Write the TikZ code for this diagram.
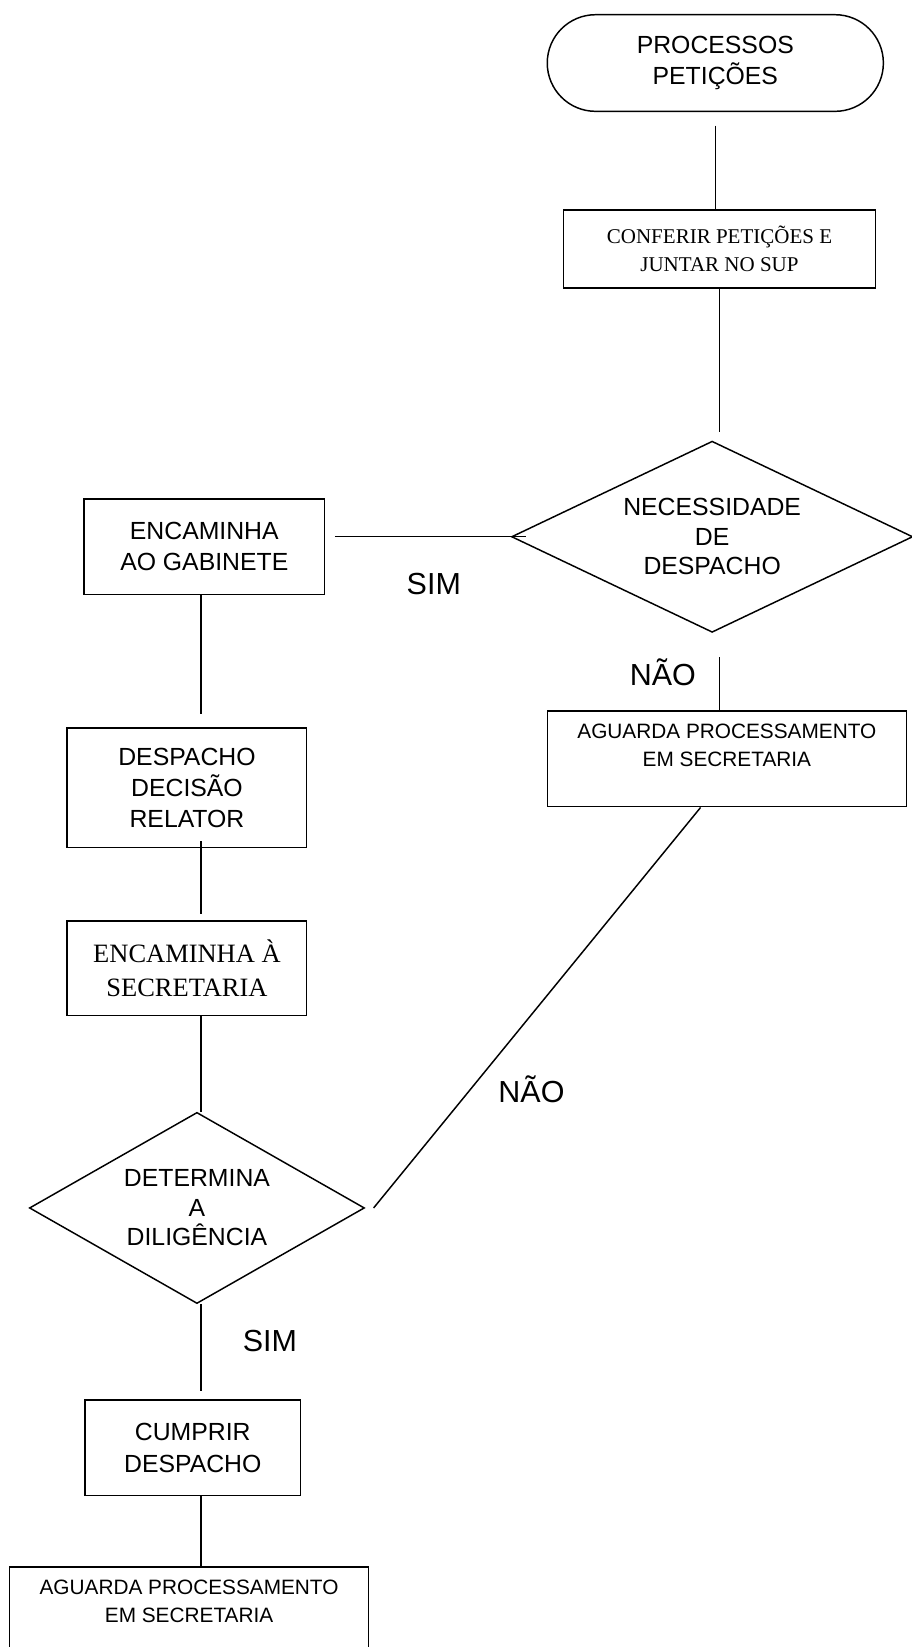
\documentclass[tikz,border=0pt]{standalone}
\usepackage{fontspec}
\setmainfont{Liberation Sans}
\newfontfamily\serifrm{Liberation Serif}
\usepackage{tikz}
\usetikzlibrary{shapes.geometric, positioning}

\begin{document}
\begin{tikzpicture}[
    x=0.5pt, y=-0.5pt,
    line width=0.7pt,
    box/.style      = {draw, align=center, inner sep=0pt,
                       font=\fontsize{11.8}{14.8}\selectfont},
    terminal/.style = {box, rounded corners=23pt, minimum width=160pt,
                       minimum height=46pt},
    decision/.style = {draw, diamond, align=center, inner sep=0pt,
                       font=\fontsize{11.8}{14}\selectfont},
    wait/.style     = {box, minimum width=171pt, minimum height=45.5pt,
                       font=\fontsize{9.9}{13}\selectfont},
    answer/.style   = {font=\fontsize{14.5}{17}\selectfont}
  ]
  \useasboundingbox (0,0) rectangle (868,1568);

  % Start
  \node[terminal] (start) at (681,60) {PROCESSOS\\PETIÇÕES};

  % Check petitions
  \node[box, minimum width=148.5pt, minimum height=37pt,
        font=\serifrm\fontsize{10}{13.5}\selectfont]
    (conf) at (685,237) {CONFERIR PETIÇÕES E\\JUNTAR NO SUP};

  % First decision
  \node[decision, aspect=2.1, minimum width=191pt, minimum height=91pt]
    (need) at (678,511) {NECESSIDADE\\DE\\DESPACHO};

  % Right branch
  \node[wait] (wait1) at (692,722.5)
    {AGUARDA PROCESSAMENTO\\EM SECRETARIA\\~};

  % Left column
  \node[box, minimum width=114.5pt, minimum height=45.5pt]
    (cab) at (194.5,520.5) {ENCAMINHA\\AO GABINETE};
  \node[box, minimum width=114pt, minimum height=57pt]
    (rel) at (178,750) {DESPACHO\\DECISÃO\\RELATOR};
  \node[box, minimum width=114pt, minimum height=45pt,
        font=\serifrm\fontsize{12.6}{16}\selectfont]
    (sec) at (178,922) {ENCAMINHA À\\SECRETARIA};

  % Second decision
  \node[decision, aspect=1.75, minimum width=159.5pt, minimum height=91pt]
    (dil) at (187.5,1150) {DETERMINA\\A\\DILIGÊNCIA};

  \node[box, minimum width=102.5pt, minimum height=45.5pt]
    (cump) at (183.5,1378.5) {CUMPRIR\\DESPACHO};
  \node[wait] (wait2) at (180,1537.5)
    {AGUARDA PROCESSAMENTO\\EM SECRETARIA\\~};

  % Labels
  \node[answer] (sim1) at (413,556) {SIM};
  \node[answer] (nao1) at (631,640) {NÃO};
  \node[answer] (nao2) at (506,1037) {NÃO};
  \node[answer] (sim2) at (257,1277) {SIM};

  % Lines
  \draw[shorten <=6.5pt] (start.south) -- (start.south |- conf.north);
  \draw[shorten >=4pt] (conf.south) -- (conf.south |- need.north);
  \draw[shorten <=4.5pt, shorten >=-7pt] (cab.east |- need.west) -- (need.west);
  \draw[shorten <=11.5pt, shorten >=-0.5pt] (conf.south |- need.south)
    -- (conf.south |- wait1.north);
  \draw ([xshift=-12.5pt]wait1.south) -- ([xshift=4pt]dil.east);
  \draw[shorten >=6.5pt] ([xshift=-1.5pt]cab.south)
    -- ([xshift=-1.5pt]cab.south |- rel.north);
  \draw[shorten <=-3.5pt, shorten >=3pt] ([xshift=-1.5pt]cab.south |- rel.south)
    -- ([xshift=-1.5pt]cab.south |- sec.north);
  \draw ([xshift=-1.5pt]cab.south |- sec.south)
    -- ([xshift=-1.5pt]cab.south |- dil.north);
  \draw[shorten >=4pt] ([xshift=-1.5pt]cab.south |- dil.south)
    -- ([xshift=-1.5pt]cab.south |- cump.north);
  \draw ([xshift=-1.5pt]cab.south |- cump.south)
    -- ([xshift=-1.5pt]cab.south |- wait2.north);
\end{tikzpicture}
\end{document}
